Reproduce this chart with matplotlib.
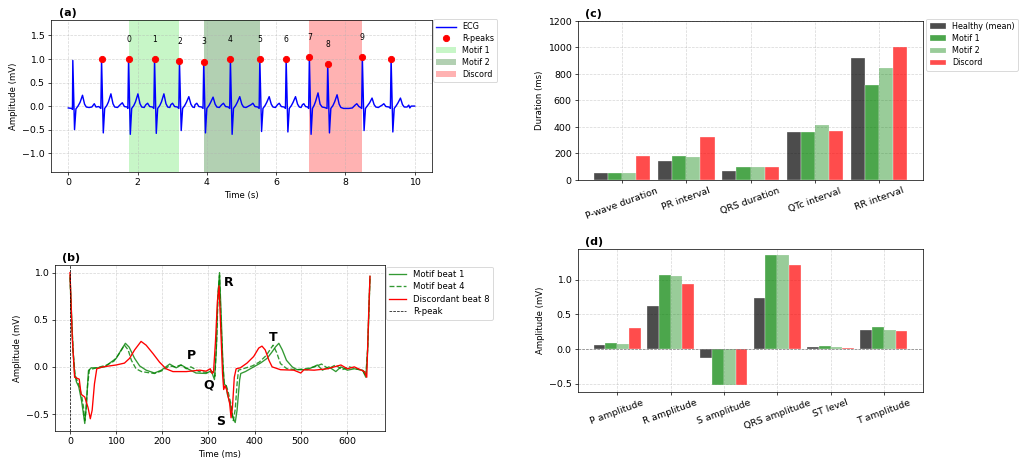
import numpy as np
import matplotlib
matplotlib.use("Agg")
import matplotlib.pyplot as plt
from matplotlib.ticker import MultipleLocator

# ---- panel (a): 10 s ECG strip ----
ecg_t = [0.00, 0.10, 0.12,
         0.13, 0.18, 0.22, 0.28, 0.34, 0.41, 0.47, 0.52, 0.60, 0.68, 0.75, 0.80, 0.88, 0.94,
         0.96, 1.01, 1.05, 1.11, 1.16, 1.23, 1.29, 1.34, 1.42, 1.50, 1.56, 1.62, 1.70, 1.72,
         1.74, 1.79, 1.83, 1.89, 1.94, 2.01, 2.07, 2.12, 2.19, 2.24, 2.29, 2.35, 2.43, 2.47,
         2.49, 2.54, 2.58, 2.64, 2.69, 2.76, 2.82, 2.87, 2.93, 2.96, 3.01, 3.07, 3.15, 3.19,
         3.21, 3.26, 3.30, 3.36, 3.41, 3.48, 3.54, 3.59, 3.64, 3.66, 3.71, 3.77, 3.85, 3.89,
         3.91, 3.96, 4.00, 4.06, 4.11, 4.18, 4.24, 4.29, 4.36, 4.43, 4.48, 4.54, 4.62, 4.66,
         4.68, 4.73, 4.77, 4.83, 4.88, 4.95, 5.01, 5.06, 5.13, 5.28, 5.33, 5.39, 5.47, 5.51,
         5.53, 5.58, 5.62, 5.68, 5.73, 5.80, 5.86, 5.91, 5.98, 6.04, 6.09, 6.15, 6.23, 6.27,
         6.29, 6.34, 6.38, 6.44, 6.49, 6.56, 6.62, 6.67, 6.72, 6.76, 6.80, 6.85, 6.91, 6.94,
         6.96, 7.01, 7.05, 7.10, 7.14, 7.21, 7.27, 7.33, 7.40, 7.47,
         7.49, 7.54, 7.58, 7.64, 7.69, 7.76, 7.82, 7.87, 7.95, 8.10, 8.20, 8.28, 8.33, 8.39, 8.44, 8.47,
         8.49, 8.54, 8.58, 8.64, 8.70, 8.77, 8.83, 8.88, 8.95, 9.06, 9.11, 9.17, 9.26, 9.30,
         9.32, 9.37, 9.41, 9.47, 9.52, 9.59, 9.65, 9.70, 9.78, 9.83, 9.86, 9.90, 10.00]
ecg_v = [-0.04, -0.05, -0.07,
         0.97, -0.50, -0.06, 0.00, 0.08, 0.23, 0.04, -0.02, -0.03, -0.02, 0.05, -0.02, -0.01, -0.05,
         0.99, -0.57, -0.05, 0.01, 0.09, 0.26, 0.05, -0.02, -0.03, 0.03, 0.07, -0.01, -0.02, -0.05,
         1.00, -0.60, -0.05, 0.01, 0.09, 0.26, 0.05, -0.02, -0.03, 0.03, 0.06, -0.01, -0.02, -0.05,
         1.00, -0.58, -0.05, 0.01, 0.09, 0.26, 0.05, -0.02, -0.03, 0.03, 0.06, -0.01, -0.02, -0.05,
         0.95, -0.52, -0.05, 0.01, 0.08, 0.20, 0.04, -0.02, -0.03, 0.03, 0.06, -0.01, -0.02, -0.05,
         0.94, -0.57, -0.05, 0.01, 0.08, 0.19, 0.04, -0.02, -0.03, 0.03, 0.06, -0.01, -0.02, -0.05,
         0.99, -0.60, -0.05, 0.01, 0.08, 0.20, 0.04, -0.02, -0.03, 0.03, 0.06, -0.01, -0.02, -0.05,
         0.99, -0.54, -0.05, 0.01, 0.08, 0.20, 0.04, -0.02, -0.03, 0.03, 0.06, -0.01, -0.02, -0.05,
         0.99, -0.55, -0.05, 0.01, 0.08, 0.20, 0.04, -0.02, -0.03, 0.03, 0.05, -0.01, -0.02, -0.05,
         1.04, -0.60, -0.05, 0.02, 0.10, 0.28, 0.04, -0.02, -0.03, -0.05,
         0.89, -0.57, -0.05, 0.01, 0.09, 0.24, 0.04, -0.03, -0.05, -0.05, -0.04, 0.02, 0.05, -0.01, -0.03, -0.05,
         1.04, -0.52, -0.05, 0.01, 0.07, 0.17, 0.03, -0.02, -0.03, 0.02, 0.05, -0.01, -0.02, -0.05,
         1.01, -0.55, -0.05, 0.01, 0.07, 0.17, 0.03, -0.02, -0.02, 0.02, -0.04, 0.00, 0.00]

rpeak_t = [0.96, 1.74, 2.49, 3.21, 3.91, 4.68, 5.53, 6.29, 6.96, 7.49, 8.49, 9.32]
rpeak_v = [0.99, 1.00, 1.00, 0.95, 0.94, 0.99, 0.99, 0.99, 1.04, 0.89, 1.04, 1.01]
beat_ids = [0, 1, 2, 3, 4, 5, 6, 7, 8, 9]   # labels on rpeak_t[1:11]

# ---- panel (b): overlaid beats (ms) ----
m1_t = [0, 3, 6.5, 10, 14, 19, 25, 28, 32, 35, 40, 46, 61, 75, 86, 100, 111, 120, 128, 140,
        151, 165, 183, 198, 216, 230, 241, 255, 273, 295, 306, 313, 317, 320, 324, 327.6, 331, 334, 338, 341,
        347, 353, 358, 362, 367.5, 370, 380, 398, 412.6, 427, 438, 445, 452.5, 460, 469, 481.5, 492, 514, 536, 547,
        561, 576, 587, 601, 616, 634, 641, 645, 650]
m1_v = [0.97, 0.6, 0.18, -0.07, -0.16, -0.21, -0.36, -0.46, -0.60, -0.43, -0.04, -0.01, -0.01, 0.0, 0.04, 0.09, 0.18, 0.25, 0.21, 0.09,
        0.01, -0.035, -0.065, -0.035, 0.03, -0.01, 0.02, -0.02, -0.065, -0.07, -0.04, -0.135, 0.18, 0.71, 1.0, 0.54, 0.07, -0.18, -0.2, -0.29,
        -0.39, -0.54, -0.59, -0.46, -0.14, -0.07, -0.05, 0.0, 0.04, 0.09, 0.16, 0.21, 0.25, 0.18, 0.07, 0.0, -0.03, -0.03, 0.02, -0.035,
        0.0, -0.05, 0.0, -0.035, -0.02, -0.035, -0.11, 0.18, 0.96]
m4_t = [0, 3, 7, 11, 15, 20, 25, 29, 32, 35, 38, 42, 50, 65, 80, 95, 108, 118, 126, 133,
        143, 155, 168, 183, 200, 215, 228, 240, 252, 262, 280, 300, 310, 314, 318, 321, 324, 327, 331, 334,
        338, 342, 348, 354, 358, 362, 365, 375, 395, 410, 425, 440, 448, 456, 470, 490, 510, 530, 545, 560,
        575, 590, 605, 620, 635, 641, 645, 650]
m4_v = [0.95, 0.55, 0.15, -0.08, -0.14, -0.2, -0.3, -0.42, -0.57, -0.45, -0.2, -0.03, -0.02, 0.0, 0.02, 0.06, 0.15, 0.23, 0.18, 0.07,
        -0.02, -0.05, -0.06, -0.07, -0.04, 0.01, 0.0, 0.02, -0.02, 0.0, -0.05, -0.06, -0.05, -0.1, 0.3, 0.8, 0.97, 0.5, 0.05, -0.17,
        -0.19, -0.25, -0.38, -0.57, -0.45, -0.18, -0.035, -0.02, 0.01, 0.05, 0.12, 0.23, 0.15, 0.035, -0.02, -0.03, -0.02, 0.0, 0.03, -0.02,
        0.02, -0.03, 0.0, -0.02, -0.04, -0.1, 0.2, 0.95]
d8_t = [0, 5, 10, 15, 20, 24, 32, 39, 44, 48, 53, 58, 71, 100, 118, 129, 140, 154, 165, 180,
        194, 208, 223, 252, 281, 295, 304, 308, 311, 315, 319.5, 323, 327, 330.5, 333, 336, 340, 346, 349, 352,
        356, 360, 369, 383.5, 398, 409, 416, 423, 431, 438, 456, 485, 500, 507, 529, 558, 587, 601, 616, 638,
        643, 647, 650]
d8_v = [1.0, 0.3, -0.11, -0.12, -0.13, -0.29, -0.32, -0.43, -0.55, -0.46, -0.18, -0.02, 0.0, 0.02, 0.04, 0.09, 0.18, 0.27, 0.23, 0.14,
        0.05, -0.02, -0.05, -0.05, -0.035, -0.045, -0.02, -0.07, -0.05, 0.25, 0.7, 0.86, 0.36, -0.07, -0.24, -0.2, -0.25, -0.39, -0.54, -0.43,
        -0.11, -0.02, -0.01, 0.04, 0.11, 0.2, 0.22, 0.18, 0.07, 0.0, -0.03, -0.035, -0.065, -0.03, -0.035, -0.02, 0.02, -0.02, 0.0, -0.05,
        -0.11, 0.54, 0.96]

# ---- panels (c) and (d): feature bars ----
groups = ['Healthy (mean)', 'Motif 1', 'Motif 2', 'Discord']
dur_cats = ['P-wave duration', 'PR interval', 'QRS duration', 'QTc interval', 'RR interval']
dur_healthy = [55, 143, 65, 361, 917]
dur_motif1 = [50, 183, 98, 361, 717]
dur_motif2 = [55, 170, 98, 414, 845]
dur_discord = [180, 321, 100, 373, 1000]

amp_cats = ['P amplitude', 'R amplitude', 'S amplitude', 'QRS amplitude', 'ST level', 'T amplitude']
amp_healthy = [0.062, 0.617, -0.134, 0.742, 0.024, 0.268]
amp_motif1 = [0.086, 1.062, -0.512, 1.349, 0.043, 0.316]
amp_motif2 = [0.072, 1.048, -0.526, 1.349, 0.029, 0.268]
amp_discord = [0.306, 0.933, -0.517, 1.215, 0.014, 0.258]

bar_cols = [('black', 0.7), ('green', 0.7), ('green', 0.4), ('red', 0.7)]

plt.rcParams['xtick.labelsize'] = 10.5
plt.rcParams['ytick.labelsize'] = 10.5

fig = plt.figure(figsize=(16, 7.3), dpi=64.25)
ax_a = fig.add_axes([0.0496, 0.6333, 0.3706, 0.3241])
ax_b = fig.add_axes([0.0535, 0.0810, 0.3210, 0.3539])
ax_c = fig.add_axes([0.5623, 0.6162, 0.3356, 0.3390])
ax_d = fig.add_axes([0.5623, 0.1642, 0.3356, 0.3049])


def tag(ax, s):
    ax.text(0.02, 1.015, s, transform=ax.transAxes, fontsize=12.5,
            fontweight='bold', va='bottom', ha='left')


# (a)
ax_a.plot(ecg_t, ecg_v, color='blue', lw=1.6, label='ECG')
ax_a.plot(rpeak_t, rpeak_v, 'o', color='red', ms=7, label='R-peaks', zorder=3)
ax_a.axvspan(rpeak_t[1], rpeak_t[3], color='lightgreen', alpha=0.5, lw=0, label='Motif 1')
ax_a.axvspan(rpeak_t[4], rpeak_t[6], color='darkgreen', alpha=0.3, lw=0, label='Motif 2')
ax_a.axvspan(rpeak_t[8], rpeak_t[10], color='red', alpha=0.3, lw=0, label='Discord')
for i, b in enumerate(beat_ids):
    ax_a.text(rpeak_t[i + 1], rpeak_v[i + 1] + 0.33, str(b), fontsize=8.5,
              ha='center', va='bottom')
ax_a.set_xlim(-0.5, 10.5)
ax_a.set_ylim(-1.4, 1.83)
ax_a.set_yticks([-1.0, -0.5, 0.0, 0.5, 1.0, 1.5])
ax_a.set_xlabel('Time (s)', fontsize=9.5)
ax_a.set_ylabel('Amplitude (mV)', fontsize=9.5)
ax_a.grid(True, linestyle='--', alpha=0.5)
ax_a.legend(loc='upper left', bbox_to_anchor=(1.003, 1.005), borderaxespad=0,
            fontsize=9, labelspacing=0.35, handlelength=2.4)
tag(ax_a, '(a)')

# (b)
ax_b.plot(m1_t, m1_v, color='green', alpha=0.8, lw=1.5, label='Motif beat 1')
ax_b.plot(m4_t, m4_v, color='green', alpha=0.8, lw=1.5, ls='--', label='Motif beat 4')
ax_b.plot(d8_t, d8_v, color='red', lw=1.5, label='Discordant beat 8')
ax_b.axvline(0, color='black', ls='--', lw=0.8, label='R-peak')
for s, x, y in [('P', 264, 0.125), ('Q', 301, -0.19), ('R', 343, 0.9), ('S', 327, -0.58), ('T', 441, 0.31)]:
    ax_b.text(x, y, s, fontsize=14, fontweight='bold', ha='center', va='center')
ax_b.yaxis.set_major_locator(MultipleLocator(0.5))
ax_b.set_xlabel('Time (ms)', fontsize=9.5)
ax_b.set_ylabel('Amplitude (mV)', fontsize=9.5)
ax_b.grid(True, linestyle='--', alpha=0.5)
ax_b.legend(loc='upper left', bbox_to_anchor=(1.003, 0.99), borderaxespad=0,
            fontsize=9.5, labelspacing=0.4)
tag(ax_b, '(b)')

# (c), (d)
w = 0.22
for ax, cats, series in [(ax_c, dur_cats, [dur_healthy, dur_motif1, dur_motif2, dur_discord]),
                         (ax_d, amp_cats, [amp_healthy, amp_motif1, amp_motif2, amp_discord])]:
    x = np.arange(len(cats))
    for i, (vals, (c, a), g) in enumerate(zip(series, bar_cols, groups)):
        ax.bar(x + (i - 1.5) * w, vals, w, color=c, alpha=a, edgecolor='white', lw=0.5, label=g)
    ax.set_xticks(x)
    ax.set_xticklabels(cats, rotation=20)
    ax.set_axisbelow(True)
    ax.grid(True, linestyle='--', alpha=0.5)

ax_c.set_ylim(0, 1200)
ax_c.set_ylabel('Duration (ms)', fontsize=9.5)
ax_c.legend(loc='upper left', bbox_to_anchor=(1.01, 1.015), borderaxespad=0,
            fontsize=9, labelspacing=0.4)
tag(ax_c, '(c)')

ax_d.axhline(0, color='gray', ls='--', lw=0.8)
ax_d.set_ylabel('Amplitude (mV)', fontsize=9.5)
tag(ax_d, '(d)')

fig.savefig('out.png', dpi=64.25)
